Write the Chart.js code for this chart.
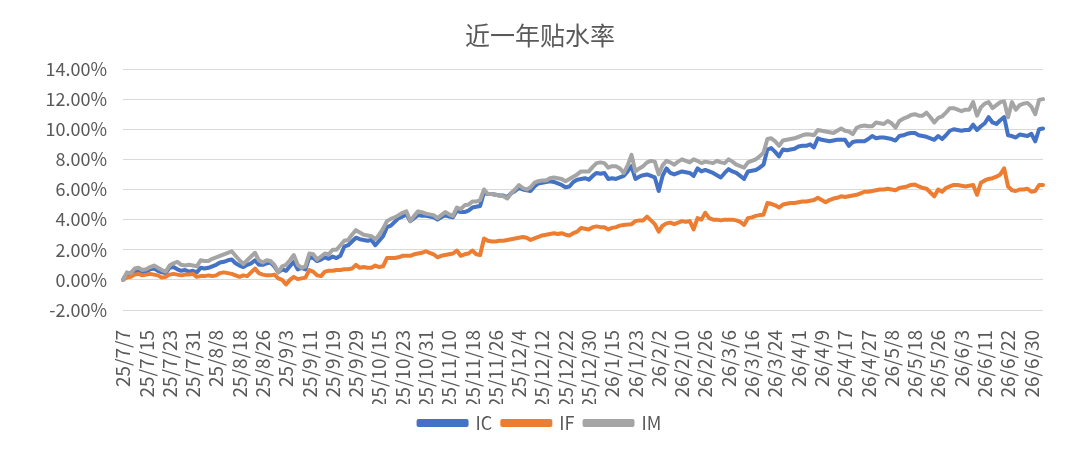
<!DOCTYPE html>
<html>
<head>
<meta charset="utf-8">
<script src="https://cdn.jsdelivr.net/npm/chart.js@4.4.1/dist/chart.umd.min.js"></script>
<style>
  html, body { margin: 0; padding: 0; background: #fff; }
  #wrap { width: 1080px; height: 456px; }
</style>
</head>
<body>
<div id="wrap"><canvas id="basisChart"></canvas></div>
<script>
// 每6个交易日一个刻度
const tickLabels = ['25/7/7', '25/7/15', '25/7/23', '25/7/31', '25/8/8', '25/8/18', '25/8/26', '25/9/3',
  '25/9/11', '25/9/19', '25/9/29', '25/10/15', '25/10/23', '25/10/31', '25/11/10', '25/11/18', '25/11/26',
  '25/12/4', '25/12/12', '25/12/22', '25/12/30', '26/1/15', '26/1/23', '26/2/2', '26/2/10', '26/2/26',
  '26/3/6', '26/3/16', '26/3/24', '26/4/1', '26/4/9', '26/4/17', '26/4/27', '26/5/8', '26/5/18',
  '26/5/26', '26/6/3', '26/6/11', '26/6/22', '26/6/30'];

const IC = [0, 0.4, 0.35, 0.6, 0.55, 0.5, 0.55, 0.7, 0.75, 0.6, 0.5, 0.45, 0.8, 0.85, 0.7, 0.6, 0.65, 0.55, 0.6, 0.5,
  0.8, 0.75, 0.8, 0.9, 1.0, 1.15, 1.2, 1.3, 1.35, 1.1, 0.95, 0.85, 1.0, 1.1, 1.3, 1.0, 1.0, 1.1, 1.15, 0.9,
  0.5, 0.7, 0.6, 0.9, 1.2, 0.7, 0.8, 0.7, 1.5, 1.45, 1.25, 1.35, 1.5, 1.4, 1.55, 1.45, 1.6, 2.2, 2.3, 2.55,
  2.8, 2.7, 2.65, 2.6, 2.65, 2.3, 2.6, 2.9, 3.5, 3.6, 3.85, 4.1, 4.2, 4.35, 3.9, 4.1, 4.3, 4.25, 4.25, 4.2,
  4.15, 4.0, 4.15, 4.3, 4.2, 4.15, 4.6, 4.5, 4.5, 4.6, 4.8, 4.85, 4.9, 5.8, 5.7, 5.7, 5.65, 5.6, 5.6, 5.5,
  5.75, 5.9, 6.1, 6.0, 5.95, 5.9, 6.2, 6.4, 6.45, 6.5, 6.55, 6.5, 6.4, 6.3, 6.15, 6.2, 6.5, 6.65, 6.7, 6.75,
  6.65, 6.9, 7.1, 7.05, 7.1, 6.7, 6.75, 6.7, 6.8, 6.9, 7.2, 7.55, 6.7, 6.85, 6.95, 7.0, 6.9, 6.8, 5.9, 6.9,
  7.4, 7.1, 7.0, 7.1, 7.2, 7.15, 7.1, 6.9, 7.4, 7.2, 7.3, 7.2, 7.1, 6.95, 6.8, 7.1, 7.35, 7.2, 7.1, 6.9,
  6.7, 7.2, 7.25, 7.3, 7.45, 7.65, 8.65, 8.75, 8.5, 8.2, 8.65, 8.6, 8.65, 8.7, 8.85, 8.9, 8.9, 9.0, 8.8, 9.4,
  9.3, 9.25, 9.2, 9.25, 9.3, 9.3, 9.3, 8.9, 9.15, 9.2, 9.2, 9.2, 9.35, 9.55, 9.4, 9.45, 9.45, 9.4, 9.35, 9.25,
  9.55, 9.6, 9.7, 9.75, 9.75, 9.6, 9.55, 9.5, 9.4, 9.3, 9.55, 9.35, 9.6, 9.9, 10.0, 9.95, 9.9, 9.95, 9.95, 10.3,
  9.95, 10.2, 10.4, 10.8, 10.45, 10.35, 10.6, 10.8, 9.6, 9.55, 9.45, 9.65, 9.6, 9.55, 9.7, 9.2, 10.0, 10.05];

const IF = [0, 0.15, 0.2, 0.35, 0.4, 0.3, 0.35, 0.4, 0.35, 0.3, 0.15, 0.2, 0.35, 0.4, 0.35, 0.3, 0.35, 0.35, 0.4, 0.2,
  0.25, 0.25, 0.3, 0.25, 0.3, 0.45, 0.5, 0.45, 0.4, 0.3, 0.2, 0.3, 0.25, 0.5, 0.75, 0.45, 0.35, 0.3, 0.3, 0.35,
  0.1, 0.0, -0.3, 0.0, 0.2, 0.05, 0.1, 0.15, 0.65, 0.55, 0.3, 0.25, 0.55, 0.6, 0.6, 0.65, 0.65, 0.7, 0.7, 0.75,
  1.0, 0.8, 0.85, 0.8, 0.8, 0.95, 0.85, 0.9, 1.45, 1.45, 1.45, 1.5, 1.6, 1.6, 1.6, 1.7, 1.75, 1.8, 1.9, 1.8,
  1.7, 1.5, 1.6, 1.65, 1.7, 1.75, 1.95, 1.6, 1.7, 1.75, 1.95, 1.7, 1.65, 2.75, 2.6, 2.55, 2.55, 2.6, 2.6, 2.65,
  2.7, 2.75, 2.8, 2.85, 2.8, 2.65, 2.75, 2.85, 2.95, 3.0, 3.05, 3.1, 3.05, 3.1, 3.0, 2.95, 3.1, 3.2, 3.45, 3.4,
  3.35, 3.5, 3.55, 3.5, 3.5, 3.35, 3.45, 3.5, 3.6, 3.65, 3.67, 3.7, 3.9, 3.95, 3.95, 4.2, 3.95, 3.7, 3.2, 3.6,
  3.75, 3.8, 3.7, 3.8, 3.9, 3.85, 3.9, 3.35, 4.1, 4.0, 4.45, 4.1, 4.0, 4.0, 3.95, 4.0, 4.0, 4.0, 3.95, 3.85,
  3.65, 4.1, 4.15, 4.25, 4.3, 4.33, 5.1, 5.05, 4.95, 4.8, 5.0, 5.05, 5.1, 5.1, 5.15, 5.2, 5.2, 5.25, 5.3, 5.45,
  5.3, 5.15, 5.3, 5.4, 5.45, 5.55, 5.5, 5.55, 5.6, 5.65, 5.75, 5.85, 5.85, 5.9, 5.95, 6.0, 6.0, 6.05, 6.0, 5.95,
  6.1, 6.15, 6.2, 6.3, 6.33, 6.2, 6.1, 6.05, 5.8, 5.55, 6.0, 5.85, 6.1, 6.2, 6.3, 6.3, 6.25, 6.2, 6.25, 6.3,
  5.65, 6.45, 6.6, 6.7, 6.75, 6.85, 7.0, 7.4, 6.2, 5.95, 5.9, 6.0, 6.0, 6.05, 5.85, 5.9, 6.3, 6.3];

const IM = [0, 0.5, 0.45, 0.75, 0.8, 0.65, 0.7, 0.85, 0.95, 0.8, 0.65, 0.55, 0.95, 1.1, 1.2, 1.0, 0.95, 1.0, 0.95, 0.9,
  1.3, 1.25, 1.25, 1.4, 1.5, 1.6, 1.7, 1.8, 1.9, 1.6, 1.3, 1.05, 1.3, 1.55, 1.8, 1.3, 1.15, 1.3, 1.25, 1.0,
  0.5, 0.9, 1.0, 1.3, 1.65, 1.0, 0.8, 0.9, 1.75, 1.7, 1.35, 1.55, 1.75, 1.7, 2.0, 2.0, 2.3, 2.6, 2.65, 3.0,
  3.3, 3.15, 3.0, 2.95, 2.9, 2.7, 3.0, 3.4, 3.9, 4.05, 4.15, 4.3, 4.45, 4.55, 3.9, 4.25, 4.55, 4.5, 4.4, 4.35,
  4.3, 4.1, 4.3, 4.5, 4.35, 4.25, 4.8, 4.7, 4.95, 5.0, 5.2, 5.2, 5.3, 6.0, 5.7, 5.7, 5.65, 5.6, 5.55, 5.4,
  5.75, 6.0, 6.3, 6.1, 6.0, 6.15, 6.45, 6.55, 6.6, 6.6, 6.75, 6.8, 6.75, 6.7, 6.55, 6.7, 6.85, 7.0, 7.2, 7.2,
  7.2, 7.5, 7.75, 7.8, 7.75, 7.45, 7.55, 7.55, 7.4, 7.1, 7.6, 8.3, 7.2, 7.4, 7.55, 7.8, 7.9, 7.85, 7.0, 7.6,
  7.9, 7.8, 7.65, 7.85, 8.0, 7.9, 7.8, 8.0, 7.9, 7.75, 7.85, 7.8, 7.75, 7.9, 7.8, 7.75, 8.0, 7.85, 7.65, 7.55,
  7.45, 7.8, 7.9, 8.0, 8.2, 8.45, 9.35, 9.4, 9.2, 8.9, 9.25, 9.3, 9.35, 9.4, 9.5, 9.6, 9.67, 9.65, 9.6, 9.95,
  9.9, 9.85, 9.8, 9.75, 9.9, 10.05, 9.9, 9.85, 9.67, 10.1, 10.2, 10.25, 10.2, 10.2, 10.45, 10.4, 10.35, 10.55, 10.4, 10.1,
  10.55, 10.7, 10.8, 10.95, 11.0, 10.9, 10.9, 11.1, 10.8, 10.45, 10.75, 10.85, 11.1, 11.4, 11.4, 11.3, 11.2, 11.3, 11.3, 11.8,
  10.9, 11.45, 11.7, 11.8, 11.4, 11.6, 11.8, 11.85, 10.8, 11.8, 11.3, 11.6, 11.7, 11.75, 11.5, 11.0, 11.95, 12.0];

// 类目轴：每6个点放一个日期标签
const labels = IC.map((_, i) => (i % 6 === 0 ? tickLabels[i / 6] : ''));

const textColor = '#595959';
const fontFamily = '"Noto Sans CJK SC", "Noto Sans", sans-serif';

function lineSet(label, data, color, order) {
    return {
        label: label,
        data: data,
        borderColor: color,
        backgroundColor: color,
        borderWidth: 4,
        pointRadius: 0,
        tension: 0,
        borderJoinStyle: 'round',
        borderCapStyle: 'round',
        order: order
    };
}

const ctx = document.getElementById('basisChart').getContext('2d');
new Chart(ctx, {
    type: 'line',
    data: {
        labels: labels,
        datasets: [
            lineSet('IC', IC, '#4472C4', 2),
            lineSet('IF', IF, '#ED7D31', 1),
            lineSet('IM', IM, '#A5A5A5', 0)
        ]
    },
    options: {
        responsive: true,
        maintainAspectRatio: false,
        animation: false,
        layout: {
            padding: { left: 0, right: 0, top: 0, bottom: 14 }
        },
        plugins: {
            title: {
                display: true,
                text: '近一年贴水率',
                color: textColor,
                font: { family: fontFamily, size: 25, weight: 'normal' },
                padding: { top: 20, bottom: 19 }
            },
            legend: {
                position: 'bottom',
                labels: {
                    color: textColor,
                    font: { family: fontFamily, size: 18 },
                    boxWidth: 48,
                    boxHeight: 4,
                    padding: 10,
                    sort: (a, b) => a.datasetIndex - b.datasetIndex
                }
            },
            tooltip: { enabled: false }
        },
        scales: {
            x: {
                offset: false,
                grid: { display: false },
                border: { display: false },
                ticks: {
                    autoSkip: false,
                    maxRotation: 90,
                    minRotation: 90,
                    padding: 12,
                    color: textColor,
                    font: { family: fontFamily, size: 19 }
                },
                afterFit: function(scale) { scale.height = 94; }
            },
            y: {
                min: -2,
                max: 14,
                grid: { color: '#D9D9D9', lineWidth: 1, drawTicks: false },
                border: { display: false },
                ticks: {
                    stepSize: 2,
                    padding: 16,
                    color: textColor,
                    font: { family: fontFamily, size: 18 },
                    callback: function(v) { return v.toFixed(2) + '%'; }
                },
                afterFit: function(scale) { scale.width = 123; }
            },
            // 右侧留白，使图例居中于整张图
            yRight: {
                type: 'linear',
                position: 'right',
                grid: { display: false },
                border: { display: false },
                ticks: { display: false },
                afterFit: function(scale) { scale.width = 37; }
            }
        }
    }
});
</script>
</body>
</html>
